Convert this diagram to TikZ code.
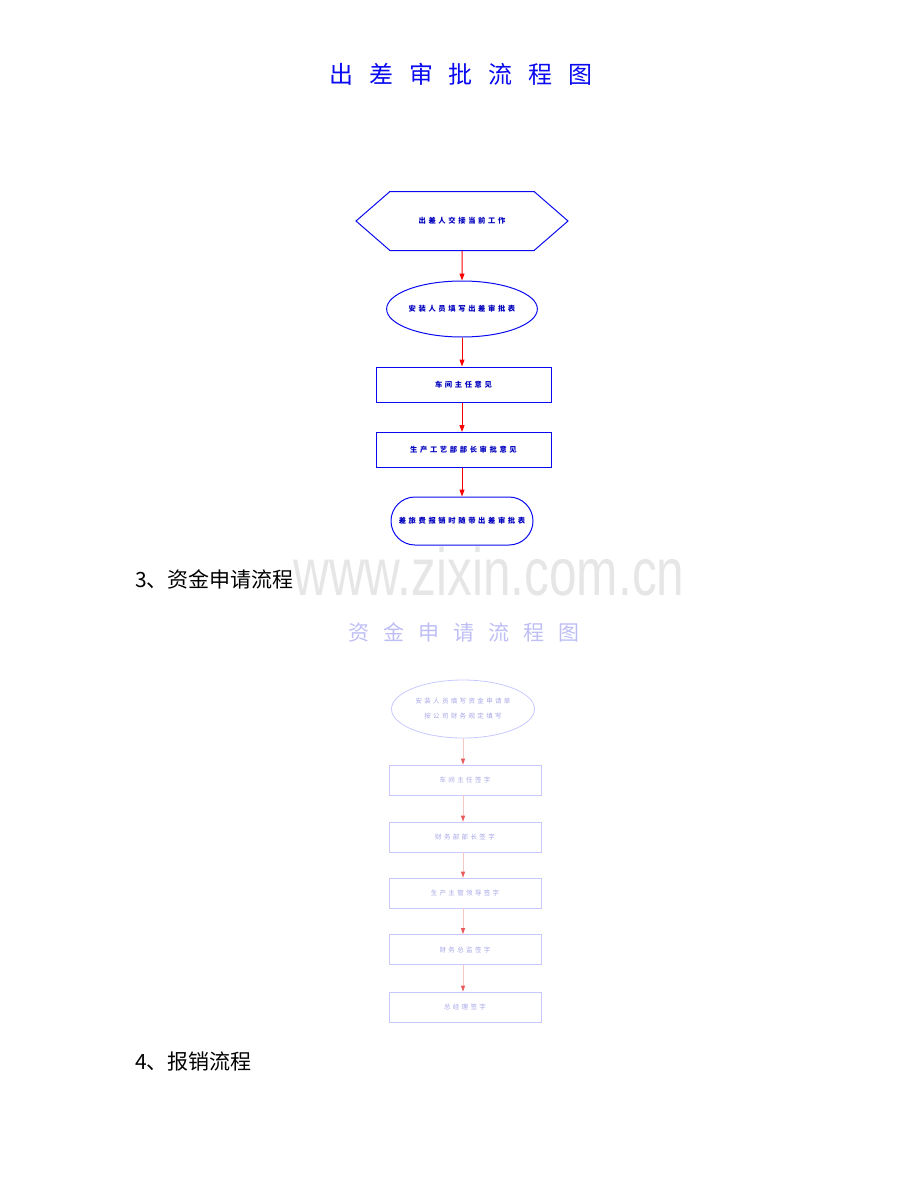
\documentclass[tikz,border=0pt]{standalone}
\usepackage{fontspec}
\usetikzlibrary{shapes.geometric,shapes.symbols,arrows.meta}

\newfontfamily\cjk{Noto Sans CJK SC}
\newfontfamily\titlefont[LetterSpace=66]{Noto Sans CJK SC}
\newfontfamily\boxfont[LetterSpace=36]{Noto Sans CJK SC}
\newfontfamily\wmfont[FakeStretch=0.74]{Liberation Sans}

\definecolor{boxblue}{RGB}{10,10,240}
\definecolor{boxtext}{RGB}{0,0,190}
\definecolor{fadeline}{RGB}{200,200,255}
\definecolor{fadetext}{RGB}{165,165,230}
\definecolor{fadetitle}{RGB}{190,190,245}
\definecolor{fadearrow}{RGB}{245,200,200}
\definecolor{fadetip}{RGB}{235,90,90}
\definecolor{wmgray}{RGB}{230,230,230}

\begin{document}
\begin{tikzpicture}[x=1pt, y=-1pt,
  every node/.style={inner sep=0pt},
  box/.style={draw=boxblue, line width=1pt, minimum width=175pt, minimum height=35pt,
    text=boxtext, font=\boxfont\bfseries\fontsize{7.3}{8}\selectfont},
  fadebox/.style={draw=fadeline, line width=0.8pt, minimum width=152pt, minimum height=30pt,
    text=fadetext, font=\boxfont\fontsize{6.5}{15}\selectfont, align=center},
  arr/.style={draw=red, line width=1pt, -{Triangle[length=7pt,width=5pt]}},
  fadearr/.style={draw=fadearrow, line width=0.8pt, -{Triangle[length=6pt,width=4pt,color=fadetip]}}]
			\useasboundingbox (0,0) rectangle (920,1191);
			
			% watermark
			\node[anchor=base west, text=wmgray, font=\wmfont\fontsize{67}{67}\selectfont] (wm) at (293,595) {www.zixin.com.cn};
			
			% first chart
			\node[text=boxblue, font=\titlefont\fontsize{24}{24}\selectfont] (t1) at (461,74) {出差审批流程图};
			
			\node[box, signal, signal to=west and east, signal pointer angle=82,
			  minimum width=212pt, minimum height=59pt] (hex) at (462,221) {出差人交接当前工作};
			\node[box, ellipse, minimum width=149pt, minimum height=56pt] (ell) at (462,309) {安装人员填写出差审批表};
			\node[box] (r1) at (463.5,384.5) {车间主任意见};
			\node[box] (r2) at (463.5,450) {生产工艺部部长审批意见};
			\node[box, rounded corners=24pt, minimum width=142pt, minimum height=48pt] (end) at (462,521) {差旅费报销时随带出差审批表};
			
			\path (hex) edge[arr] (ell);
			\path (ell) edge[arr] (r1.north -| ell);
			\path (r1.south -| ell) edge[arr] (r2.north -| ell);
			\path (r2.south -| ell) edge[arr] (end);
			
			% headings
			\node[anchor=base west, font=\cjk\fontsize{21}{21}\selectfont] (h3) at (135,587) {3、资金申请流程};
			\node[anchor=base west, font=\cjk\fontsize{21}{21}\selectfont] (h4) at (135,1069) {4、报销流程};
			
			% second chart
			\node[text=fadetitle, font=\titlefont\fontsize{21}{21}\selectfont] (t2) at (464,632) {资金申请流程图};
			
			\node[fadebox, ellipse, minimum width=143pt, minimum height=58pt] (e2) at (463,709) {安装人员填写资金申请单\\按公司财务规定填写};
			\node[fadebox] (s1) at (465,780) {车间主任签字};
			\node[fadebox] (s2) at (465,837) {财务部部长签字};
			\node[fadebox] (s3) at (465,893) {生产主管领导签字};
			\node[fadebox] (s4) at (465,949.5) {财务总监签字};
			\node[fadebox] (s5) at (465,1007) {总经理签字};
			
			\path (e2) edge[fadearr] (s1.north -| e2);
			\path (s1.south -| e2) edge[fadearr] (s2.north -| e2);
			\path (s2.south -| e2) edge[fadearr] (s3.north -| e2);
			\path (s3.south -| e2) edge[fadearr] (s4.north -| e2);
			\path (s4.south -| e2) edge[fadearr] (s5.north -| e2);
\end{tikzpicture}
\end{document}
